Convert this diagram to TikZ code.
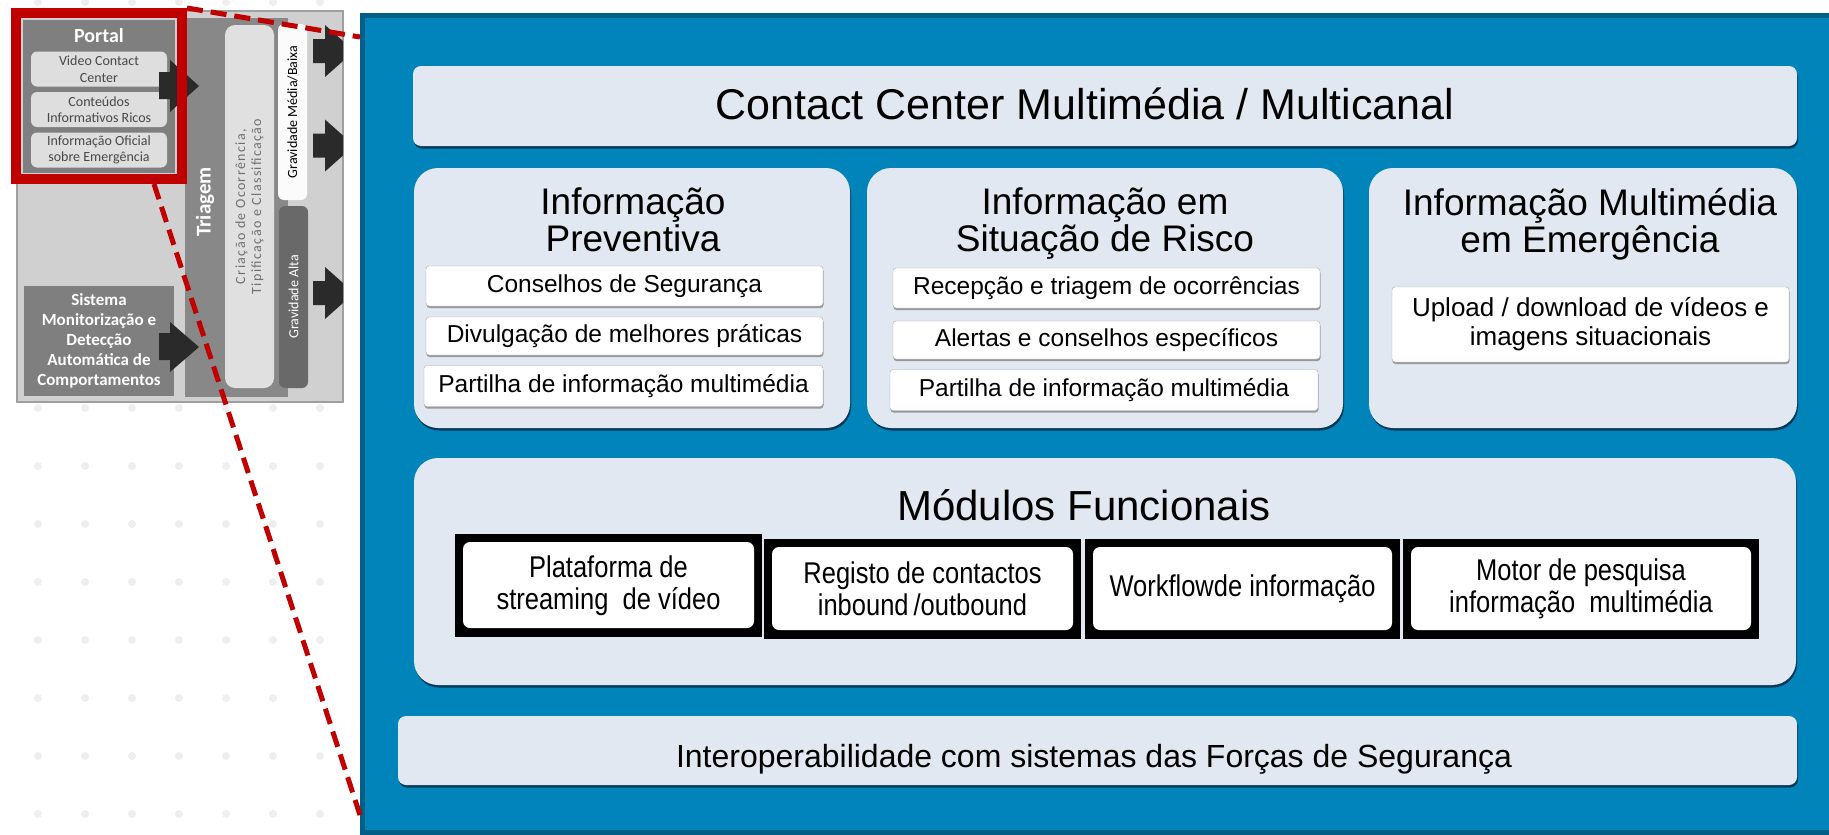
\documentclass[tikz,border=0pt]{standalone}
\usepackage{fontspec}
\setmainfont{Liberation Sans}
\newfontfamily\carlito{Carlito}
\newfontfamily\narrowsans[FakeStretch=0.85]{Liberation Sans}
\usetikzlibrary{shadows}

\definecolor{panelblue}{RGB}{0,132,186}
\definecolor{panelblueedge}{RGB}{0,94,135}
\definecolor{paleblue}{RGB}{225,232,241}
\definecolor{shadowblue}{RGB}{0,58,88}
\definecolor{zoomred}{RGB}{192,0,0}
\definecolor{sidegray}{RGB}{208,208,208}
\definecolor{midgray}{RGB}{127,127,127}
\definecolor{columngray}{RGB}{136,136,136}
\definecolor{itemgray}{RGB}{222,222,222}
\definecolor{textgray}{RGB}{72,72,72}
\definecolor{criacaogray}{RGB}{112,112,112}
\definecolor{altagray}{RGB}{105,105,105}
\definecolor{arrowgray}{RGB}{42,42,42}
\definecolor{dotgray}{RGB}{238,238,238}

\newcommand{\pxfont}[2]{\fontsize{#1}{#2}\selectfont}

\begin{document}
\begin{tikzpicture}[x=1pt, y=-1pt,
    lightbox/.style={fill=paleblue, rounded corners=24pt, inner sep=0pt,
        drop shadow={shadow xshift=1pt, shadow yshift=-2.5pt, fill=shadowblue, opacity=1}},
    bar/.style={lightbox, rounded corners=8pt},
    heading/.style={font=\pxfont{37}{37}, align=center, inner sep=0pt},
    itembox/.style={draw=gray!65, fill=white, rounded corners=3pt, inner sep=0pt,
        font=\pxfont{24.5}{28}, align=center,
        drop shadow={shadow xshift=0.5pt, shadow yshift=-2pt, fill=gray!80, opacity=1}},
    modbox/.style={fill=black, inner sep=0pt, align=center, font=\narrowsans\pxfont{30}{32},
        path picture={\fill[white, rounded corners=7pt]
            ([shift={(8pt,-8pt)}]path picture bounding box.north west) rectangle
            ([shift={(-8pt,9pt)}]path picture bounding box.south east);}},
    sidebox/.style={fill=midgray, inner sep=0pt},
    portalitem/.style={fill=itemgray, rounded corners=6pt, inner sep=0pt,
        minimum width=136pt, minimum height=35pt, align=center,
        font=\carlito\pxfont{14}{16.5}, text=textgray},
    sidetext/.style={font=\carlito\pxfont{14}{16}, align=center, inner sep=0pt},
    zoomline/.style={draw=zoomred, line width=5pt, dash pattern=on 16pt off 8pt}
]
\useasboundingbox (0,0) rectangle (1829,835);

% dotted background
\foreach \i in {0,...,6}
    \foreach \j in {0,...,14}
        \fill[dotgray] (38+47*\i, 2+58*\j) circle (4pt);

% blue panel
\draw[line width=5pt, draw=panelblueedge, fill=panelblue] (362.5,15.5) rectangle (1835,832.5);

\node[bar, minimum width=1384pt, minimum height=80pt] (topbar) at (1105,106) {};
\node[anchor=base, font=\pxfont{43}{48}, inner sep=0pt] (toptitle) at (1085,119)
    {Contact Center Multimédia / Multicanal};

% three information groups
\node[lightbox, minimum width=436pt, minimum height=260pt] (prev) at (632,298) {};
\node[heading] (prevtitle) at (633,220) {Informação\\Preventiva};
\node[itembox, minimum width=397pt, minimum height=40pt] (conselhos) at (624.5,286) {Conselhos de Segurança};
\node[itembox, minimum width=397pt, minimum height=38pt] (divulg) at (624.5,336) {Divulgação de melhores práticas};
\node[itembox, minimum width=399pt, minimum height=41pt] (partprev) at (623.5,386) {Partilha de informação multimédia};

\node[lightbox, minimum width=476pt, minimum height=260pt] (risco) at (1105,298) {};
\node[heading] (riscotitle) at (1105,224) {Informação em\\Situação de Risco};
\node[itembox, minimum width=427pt, minimum height=40pt] (recepcao) at (1106.5,288) {Recepção e triagem de ocorrências};
\node[itembox, minimum width=427pt, minimum height=38pt] (alertas) at (1106.5,340) {Alertas e conselhos específicos};
\node[itembox, minimum width=428pt, minimum height=41pt] (partrisco) at (1104,390) {Partilha de informação multimédia};

\node[lightbox, minimum width=428pt, minimum height=260pt] (emerg) at (1583,298) {};
\node[heading] (emergtitle) at (1590,224) {Informação Multimédia\\em Emergência};
\node[itembox, minimum width=397pt, minimum height=75pt, font=\pxfont{26}{29},
    text depth=7pt] (upload) at (1590.5,324.5)
    {Upload / download de vídeos e\\imagens situacionais};

% functional modules
\node[lightbox, minimum width=1382pt, minimum height=227pt] (modulos) at (1105,571.5) {};
\node[anchor=base, font=\pxfont{42}{48}, inner sep=0pt] (modtitle) at (1084,520) {Módulos Funcionais};
\node[modbox, minimum width=307pt, minimum height=103pt] (streaming) at (608.5,585.5)
    {Plataforma de\\streaming\ \ de vídeo};
\node[modbox, minimum width=317pt, minimum height=100pt] (registo) at (922.5,589)
    {Registo de contactos\\inbound\,/outbound};
\node[modbox, minimum width=315pt, minimum height=100pt] (workflow) at (1242.5,589)
    {Workflowde informação};
\node[modbox, minimum width=356pt, minimum height=100pt] (motor) at (1581,589)
    {Motor de pesquisa\\informação\ \ multimédia};

\node[bar, minimum width=1399pt, minimum height=69pt] (interop) at (1097.5,750.5) {};
\node[anchor=base, font=\pxfont{32}{36}, inner sep=0pt] (interoptext) at (1094,767)
    {Interoperabilidade com sistemas das Forças de Segurança};

% left overview panel
\node[fill=sidegray, draw=gray!75, line width=1.5pt, minimum width=326pt, minimum height=391pt,
    inner sep=0pt] (overview) at (180,206.5) {};
\node[sidebox, minimum width=152pt, minimum height=153pt] (portal) at (99,96.5) {};
\node[font=\carlito\bfseries\pxfont{20}{22}, text=white, inner sep=0pt] (portaltitle) at (99,36) {Portal};
\node[portalitem] (videocc) at (99,69) {Video Contact\\Center};
\node[portalitem] (conteudos) at (99,109.5) {Conteúdos\\Informativos Ricos};
\node[portalitem] (infooficial) at (99,150) {Informação Oficial\\sobre Emergência};

\node[sidebox, minimum width=150pt, minimum height=110pt, align=center, text=white,
    font=\carlito\bfseries\pxfont{17}{20}] (sistema) at (99,341)
    {Sistema\\Monitorização e\\Detecção\\Automática de\\Comportamentos};

\node[fill=columngray, minimum width=103pt, minimum height=379pt, inner sep=0pt] (triagemcol) at (236.5,207.5) {};
\node[rotate=90, font=\carlito\bfseries\pxfont{21}{24}, text=white, inner sep=0pt] (triagem) at (205,202) {Triagem};
\node[rotate=90, fill=itemgray!95!white, rounded corners=10pt, minimum width=363pt, minimum height=49pt,
    sidetext, text=criacaogray] (criacao) at (249.5,206.5)
    {\addfontfeature{LetterSpace=10}Criação de Ocorrência,\\\addfontfeature{LetterSpace=10}Tipificação e Classificação};
\node[rotate=90, fill=white!97!gray, rounded corners=6pt, minimum width=176pt, minimum height=29pt,
    sidetext] (mediabaixa) at (292.5,112) {Gravidade Média/Baixa};
\node[rotate=90, fill=altagray, rounded corners=6pt, minimum width=182pt, minimum height=29pt,
    sidetext, text=white] (alta) at (293.5,297) {Gravidade Alta};

% block arrows
\fill[arrowgray] (159,72) -- (170,72) -- (170,60) -- (199,86) -- (170,112) -- (170,99) -- (159,99) -- cycle;
\fill[arrowgray] (159,333) -- (170,333) -- (170,322) -- (199,347) -- (170,372) -- (170,360) -- (159,360) -- cycle;
\foreach \c in {51,145.5,293}
    \fill[arrowgray] (313,\c-12) -- (325,\c-12) -- (325,\c-26) -- (343,\c-10)
        -- (343,\c+10) -- (325,\c+26) -- (325,\c+12) -- (313,\c+12) -- cycle;

% zoom frame
\node[draw=zoomred, line width=10pt, minimum width=166pt, minimum height=166pt, inner sep=0pt] (zoomframe) at (99,96) {};
\coordinate (zoomtop) at (360,37);
\coordinate (zoombottom) at (360,815);
\draw[zoomline] (zoomframe.north east) -- (zoomtop);
\draw[zoomline] ([xshift=55pt]zoomframe.south) -- (zoombottom);

\end{tikzpicture}
\end{document}
